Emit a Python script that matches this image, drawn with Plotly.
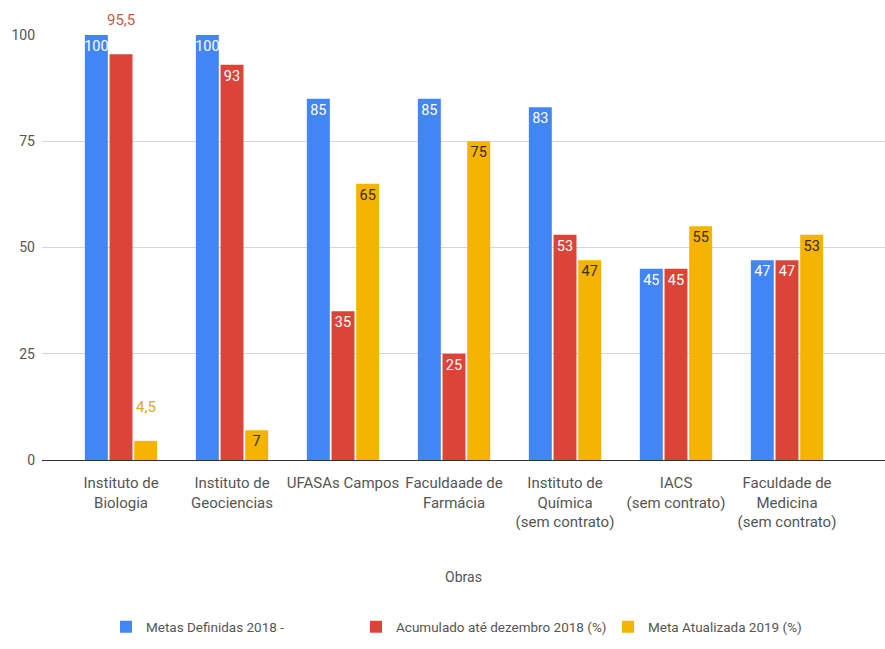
import plotly.graph_objects as go

categories = [
    "Instituto de<br>Biologia",
    "Instituto de<br>Geociencias",
    "UFASAs Campos",
    "Faculdaade de<br>Farmácia",
    "Instituto de<br>Química<br>(sem contrato)",
    "IACS<br>(sem contrato)",
    "Faculdade de<br>Medicina<br>(sem contrato)",
]
series_names = [
    "Metas Definidas 2018 -",
    "Acumulado até dezembro 2018 (%)",
    "Meta Atualizada 2019 (%)",
]
metas_2018 = [100, 100, 85, 85, 83, 45, 47]
acumulado_2018 = [95.5, 93, 35, 25, 53, 45, 47]
meta_2019 = [4.5, 7, 65, 75, 47, 55, 53]
y_ticks = [0, 25, 50, 75, 100]

colors = ["#4285F4", "#DB4437", "#F4B400"]
inside_text_colors = ["#FFFFFF", "#FFFFFF", "#3A2C10"]
outside_text_colors = ["#C9574A", "#DDAA22"]
FONT = "Roboto, sans-serif"
TXT = "#555555"

def fmt(v):
    return ("%g" % v).replace(".", ",")

all_series = [metas_2018, acumulado_2018, meta_2019]
legend_ids = ["legend", "legend2", "legend3"]

fig = go.Figure()
annotations = []
BARGAP = 0.333
slot_px = 111 * (1 - BARGAP) / 3
for si, (name, vals) in enumerate(zip(series_names, all_series)):
    labels = [fmt(v) for v in vals]
    inside = ["" if "," in t else t for t in labels]
    fig.add_trace(go.Bar(
        name=name, x=categories, y=vals,
        marker=dict(color=colors[si], line=dict(width=0)),
        text=inside, textposition="inside", insidetextanchor="end",
        constraintext="none", textangle=0,
        textfont=dict(family=FONT, size=14.5, color=inside_text_colors[si]),
        legend=legend_ids[si], showlegend=True, hoverinfo="skip",
    ))
    for ci, t in enumerate(labels):
        if "," in t:
            annotations.append(dict(
                x=categories[ci], y=vals[ci], xref="x", yref="y",
                text=t, showarrow=False, yanchor="bottom",
                xshift=(si - 1) * slot_px, yshift=23,
                font=dict(family=FONT, size=15,
                          color=outside_text_colors[si - 1]),
            ))

leg_common = dict(orientation="h", yanchor="middle", xanchor="left",
                  bgcolor="rgba(0,0,0,0)",
                  font=dict(family=FONT, size=13.5, color=TXT))
fig.update_layout(
    width=885, height=649,
    margin=dict(l=42, r=0, t=35, b=189),
    paper_bgcolor="white", plot_bgcolor="white",
    barmode="group", bargap=BARGAP, bargroupgap=0.07,
    font=dict(family=FONT, size=14, color=TXT),
    legend=dict(x=0.0759, y=-0.393, **leg_common),
    legend2=dict(x=0.3725, y=-0.393, **leg_common),
    legend3=dict(x=0.6714, y=-0.393, **leg_common),
    annotations=annotations,
    xaxis=dict(
        range=[-0.712, 6.883], showgrid=False, ticks="", tickangle=0,
        tickfont=dict(family=FONT, size=15, color=TXT),
        ticklabelstandoff=12,
        title=dict(text="Obras", standoff=42,
                   font=dict(family=FONT, size=14, color=TXT)),
        showline=False, zeroline=False, automargin=False,
    ),
    yaxis=dict(
        range=[0, 100], tickvals=y_ticks, ticks="",
        gridcolor="#D6D6D6", gridwidth=1,
        zeroline=True, zerolinecolor="#333333", zerolinewidth=1,
        tickfont=dict(family=FONT, size=14, color=TXT),
        ticklabelstandoff=6, automargin=False,
    ),
)

fig.write_html("out.html")
